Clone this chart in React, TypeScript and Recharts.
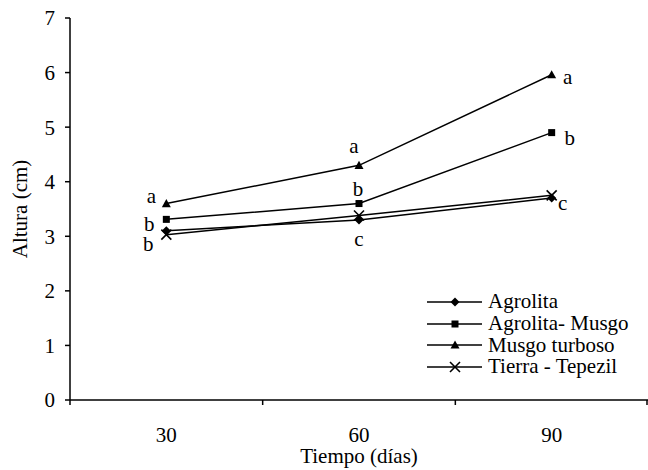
import React from "react";
import { LineChart, Line, XAxis, YAxis, Legend, LabelList } from "recharts";

const days = ["30", "60", "90"];
const agrolita = [3.1, 3.3, 3.7];
const agrolitaMusgo = [3.31, 3.6, 4.9];
const musgoTurboso = [3.6, 4.3, 5.96];
const tierraTepezil = [3.03, 3.38, 3.75];

const lettersMusgo = ["a", "a", "a"];
const lettersAgroMusgo = ["b", "b", "b"];
const lettersTierra = ["b", "c", "c"];

const yTicks = [0, 1, 2, 3, 4, 5, 6, 7];

const data = days.map((d, i) => ({
  day: d,
  agrolita: agrolita[i],
  agrolitaMusgo: agrolitaMusgo[i],
  musgo: musgoTurboso[i],
  tierra: tierraTepezil[i],
}));

const FONT = "Liberation Serif, Times New Roman, serif";
const FS = 21;

type Shape = "diamond" | "square" | "triangle" | "cross";

const Marker = ({ cx, cy, shape }: { cx: number; cy: number; shape: Shape }) => {
  if (cx == null || cy == null) return null;
  if (shape === "diamond") {
    const r = 4.5;
    return <polygon points={`${cx},${cy - r} ${cx + r},${cy} ${cx},${cy + r} ${cx - r},${cy}`} fill="#000" />;
  }
  if (shape === "square") {
    const r = 3.5;
    return <rect x={cx - r} y={cy - r} width={2 * r} height={2 * r} fill="#000" />;
  }
  if (shape === "triangle") {
    const r = 4.5;
    return <polygon points={`${cx},${cy - r} ${cx + r},${cy + r * 0.8} ${cx - r},${cy + r * 0.8}`} fill="#000" />;
  }
  const r = 5;
  return (
    <g stroke="#000" strokeWidth={1.6}>
      <line x1={cx - r} y1={cy - r} x2={cx + r} y2={cy + r} />
      <line x1={cx - r} y1={cy + r} x2={cx + r} y2={cy - r} />
    </g>
  );
};

const dotFor = (shape: Shape) => (props: any) => (
  <Marker key={`${shape}-${props.index}`} cx={props.cx} cy={props.cy} shape={shape} />
);

const letterOffsetsMusgo = [[-15, -8], [-5, -19], [16, 2]];
const letterOffsetsAgroMusgo = [[-17, 5], [-1, -15], [18, 5]];
const letterOffsetsTierra = [[-18, 9], [0, 23], [11, 8]];

const letterLabel = (letters: string[], offsets: number[][]) => (props: any) => {
  const { x, y, index } = props;
  const t = letters[index];
  if (!t) return null;
  const [dx, dy] = offsets[index];
  return (
    <text
      x={x + dx}
      y={y + dy}
      textAnchor="middle"
      dominantBaseline="central"
      fontFamily={FONT}
      fontSize={FS}
      fill="#000"
    >
      {t}
    </text>
  );
};

const XTick = (props: any) => {
  const { x, y, payload, index } = props;
  const half = payload?.offset ?? 0;
  return (
    <g>
      <line x1={x - half} x2={x - half} y1={y} y2={y + 5} stroke="#000" strokeWidth={1.5} />
      {index === days.length - 1 && (
        <line x1={x + half - 1} x2={x + half - 1} y1={y} y2={y + 5} stroke="#000" strokeWidth={1.5} />
      )}
      <text x={x} y={y + 42} textAnchor="middle" fontFamily={FONT} fontSize={FS} fill="#000">
        {payload.value}
      </text>
    </g>
  );
};

const legendItems: { name: string; shape: Shape }[] = [
  { name: "Agrolita", shape: "diamond" },
  { name: "Agrolita- Musgo", shape: "square" },
  { name: "Musgo turboso", shape: "triangle" },
  { name: "Tierra - Tepezil", shape: "cross" },
];

const LegendContent = () => (
  <div style={{ fontFamily: FONT, fontSize: FS, color: "#000" }}>
    {legendItems.map((it) => (
      <div key={it.name} style={{ display: "flex", alignItems: "center", height: 21.7, whiteSpace: "nowrap" }}>
        <svg width={60} height={20} style={{ display: "block", flex: "none" }}>
          <line x1={0} x2={55} y1={10} y2={10} stroke="#000" strokeWidth={1.5} />
          <Marker cx={28} cy={10} shape={it.shape} />
        </svg>
        <span style={{ marginLeft: 1, lineHeight: "21px" }}>{it.name}</span>
      </div>
    ))}
  </div>
);

export default function App() {
  return (
    <div style={{ position: "absolute", left: 0, top: 0, background: "#fff" }}>
      <LineChart width={648} height={470} data={data} margin={{ top: 18, right: 0, bottom: 0, left: 0 }}>
        <XAxis
          dataKey="day"
          type="category"
          scale="band"
          height={70}
          axisLine={{ stroke: "#000", strokeWidth: 1.5 }}
          tickLine={false}
          tickSize={0}
          tickMargin={0}
          tick={<XTick />}
          interval={0}
          label={{ value: "Tiempo (días)", position: "insideBottom", offset: 7, fill: "#000", fontFamily: FONT, fontSize: FS }}
        />
        <YAxis
          domain={[0, 7]}
          ticks={yTicks}
          width={70}
          axisLine={{ stroke: "#000", strokeWidth: 1.5 }}
          tickLine={{ stroke: "#000", strokeWidth: 1.5 }}
          tickSize={5}
          tickMargin={10}
          tick={{ fill: "#000", fontFamily: FONT, fontSize: FS }}
          label={{ value: "Altura (cm)", angle: -90, position: "insideLeft", offset: 20, fill: "#000", fontFamily: FONT, fontSize: FS, style: { textAnchor: "middle" } }}
        />
        <Legend
          layout="vertical"
          align="center"
          verticalAlign="middle"
          content={<LegendContent />}
          wrapperStyle={{ position: "absolute", left: 427, top: 291, width: 220 }}
        />
        <Line dataKey="agrolita" name="Agrolita" stroke="#000" strokeWidth={1.5} dot={dotFor("diamond")} activeDot={false} isAnimationActive={false} />
        <Line dataKey="agrolitaMusgo" name="Agrolita- Musgo" stroke="#000" strokeWidth={1.5} dot={dotFor("square")} activeDot={false} isAnimationActive={false}>
          <LabelList dataKey="agrolitaMusgo" content={letterLabel(lettersAgroMusgo, letterOffsetsAgroMusgo)} />
        </Line>
        <Line dataKey="musgo" name="Musgo turboso" stroke="#000" strokeWidth={1.5} dot={dotFor("triangle")} activeDot={false} isAnimationActive={false}>
          <LabelList dataKey="musgo" content={letterLabel(lettersMusgo, letterOffsetsMusgo)} />
        </Line>
        <Line dataKey="tierra" name="Tierra - Tepezil" stroke="#000" strokeWidth={1.5} dot={dotFor("cross")} activeDot={false} isAnimationActive={false}>
          <LabelList dataKey="tierra" content={letterLabel(lettersTierra, letterOffsetsTierra)} />
        </Line>
      </LineChart>
    </div>
  );
}
